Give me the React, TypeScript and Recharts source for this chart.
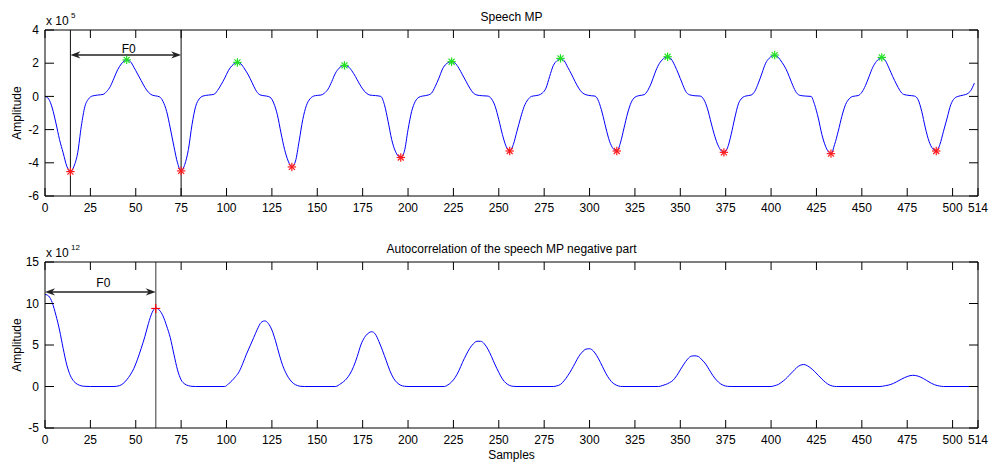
import React from "react";
import { ComposedChart, Line, Scatter, XAxis, YAxis, ReferenceLine } from "recharts";

// sample index ticks shared by both panels
const xTicks = [0, 25, 50, 75, 100, 125, 150, 175, 200, 225, 250, 275, 300, 325, 350, 375, 400, 425, 450, 475, 500, 514];
const mpTicks = [-6, -4, -2, 0, 2, 4];
const acfTicks = [-5, 0, 5, 10, 15];

// speech MP, amplitude in units of 1e5 — [sample, amplitude]
const speechMp: [number, number][] = [
  [0, 0], [2, -0.15], [4, -0.7], [6, -1.6], [8, -2.6], [10, -3.4], [12, -4.2], [14, -4.53],
  [16, -4.2], [18, -3.4], [20, -1.8], [22, -0.6], [24, -0.15], [26, 0.02], [29, 0.08], [32, 0.12], [34, 0.3], [36, 0.6], [38, 1.1], [40, 1.6], [42, 1.95], [45, 2.2],
  [47, 2.1], [49, 1.75], [51, 1.35], [53, 0.95], [55, 0.55], [57, 0.25], [59, 0.08], [61, 0.03], [63, -0.02], [65, -0.3], [67, -0.9], [69, -1.9], [71, -3.0], [73, -4.0], [75, -4.49],
  [77, -4.1], [79, -3.2], [81, -1.7], [83, -0.6], [85, -0.15], [87, 0.02], [90, 0.08], [93, 0.12], [95, 0.35], [97, 0.7], [99, 1.1], [101, 1.55], [103, 1.85], [106, 2.05],
  [108, 1.95], [110, 1.65], [112, 1.29], [114, 0.85], [116, 0.4], [118, 0.12], [120, 0.05], [122, 0.02], [124, -0.05], [126, -0.4], [128, -1.1], [130, -2.2], [132, -3.2], [134, -3.9], [136, -4.25],
  [138, -3.9], [140, -2.7], [142, -1.4], [144, -0.55], [146, -0.15], [148, 0.02], [150, 0.06], [152, 0.08], [154, 0.2], [156, 0.45], [158, 0.9], [160, 1.4], [162, 1.7], [165, 1.87],
  [167, 1.8], [169, 1.55], [171, 1.2], [173, 0.8], [175, 0.45], [177, 0.2], [179, 0.08], [182, 0.05], [185, 0.0], [187, -0.5], [189, -1.5], [191, -2.6], [193, -3.3], [196, -3.68],
  [198, -3.3], [200, -2.0], [202, -0.9], [204, -0.3], [206, -0.05], [208, 0.02], [211, 0.08], [213, 0.2], [215, 0.6], [217, 1.1], [219, 1.65], [221, 1.95], [224, 2.09],
  [226, 2.0], [228, 1.7], [230, 1.3], [232, 0.9], [234, 0.5], [236, 0.2], [238, 0.08], [241, 0.04], [244, 0.02], [246, -0.15], [248, -0.6], [250, -1.4], [252, -2.3], [254, -3.0], [256, -3.29],
  [258, -2.9], [260, -2.1], [262, -1.3], [264, -0.6], [266, -0.2], [268, 0.0], [270, 0.04], [272, 0.08], [274, 0.2], [276, 0.5], [278, 1.2], [280, 1.85], [282, 2.15], [284, 2.29],
  [286, 2.15], [288, 1.75], [290, 1.35], [292, 0.9], [294, 0.5], [296, 0.22], [298, 0.1], [301, 0.04], [303, 0.02], [305, -0.3], [307, -1.0], [309, -1.9], [311, -2.7], [313, -3.15], [315, -3.29],
  [317, -2.8], [319, -1.9], [321, -1.0], [323, -0.35], [325, -0.05], [327, 0.04], [330, 0.1], [332, 0.35], [334, 0.8], [336, 1.4], [338, 1.9], [340, 2.2], [343, 2.39],
  [345, 2.25], [347, 1.85], [349, 1.35], [351, 0.8], [353, 0.3], [355, 0.1], [358, 0.04], [361, 0.02], [363, -0.2], [365, -0.75], [367, -1.6], [369, -2.4], [371, -3.0], [374, -3.37],
  [376, -3.1], [378, -2.3], [380, -1.3], [382, -0.45], [384, -0.1], [386, 0.02], [389, 0.08], [391, 0.3], [393, 0.8], [395, 1.4], [397, 2.0], [399, 2.3], [402, 2.49],
  [404, 2.35], [406, 2.05], [408, 1.7], [410, 1.2], [412, 0.65], [414, 0.22], [416, 0.06], [419, 0.02], [422, 0.0], [424, -0.5], [426, -1.3], [428, -2.3], [430, -3.0], [433, -3.45],
  [435, -2.9], [437, -2.1], [439, -1.2], [441, -0.5], [443, -0.15], [445, 0.0], [448, 0.05], [450, 0.25], [452, 0.65], [454, 1.2], [456, 1.75], [458, 2.1], [461, 2.35],
  [463, 2.15], [465, 1.7], [467, 1.2], [469, 0.75], [471, 0.35], [473, 0.12], [476, 0.06], [479, 0.02], [481, -0.2], [483, -0.9], [485, -1.9], [487, -2.7], [489, -3.15], [491, -3.29],
  [493, -2.9], [495, -2.1], [497, -1.3], [499, -0.5], [501, -0.12], [503, 0.0], [506, 0.08], [508, 0.15], [510, 0.35], [512, 0.8],
];

// detected maxima (green) and minima (red)
const mpPeaks: [number, number][] = [
  [45, 2.2], [106, 2.05], [165, 1.87], [224, 2.09], [284, 2.29], [343, 2.39], [402, 2.49], [461, 2.35],
];
const mpValleys: [number, number][] = [
  [14, -4.53], [75, -4.49], [136, -4.25], [196, -3.68], [256, -3.29], [315, -3.29], [374, -3.37], [433, -3.45], [491, -3.29],
];

// autocorrelation of the negative part, units of 1e12 — [lag, value]
const acf: [number, number][] = [
  [0, 11.1], [2, 10.9], [4, 10.1], [6, 8.6], [8, 6.8], [10, 4.6], [12, 2.6], [14, 1.3], [16, 0.6], [18, 0.25], [20, 0.08], [22, 0.02], [25, 0], [38, 0],
  [41, 0.1], [43, 0.35], [45, 0.8], [47, 1.4], [49, 2.2], [51, 3.3], [53, 4.6], [55, 6.0], [57, 7.6], [59, 8.9], [61, 9.45], [63, 9.2], [65, 8.5], [67, 7.3], [69, 5.9], [71, 3.9], [73, 2.0], [75, 0.8], [77, 0.3], [79, 0.1], [81, 0.02], [83, 0], [99, 0],
  [101, 0.3], [103, 0.7], [105, 1.2], [107, 1.8], [109, 2.8], [111, 3.9], [113, 4.9], [115, 5.9], [117, 6.9], [119, 7.7], [121, 7.9], [123, 7.6], [125, 6.8], [127, 5.5], [129, 3.9], [131, 2.5], [133, 1.5], [135, 0.8], [137, 0.35], [139, 0.12], [141, 0.02], [143, 0], [160, 0],
  [163, 0.35], [166, 0.9], [168, 1.5], [170, 2.4], [172, 3.6], [174, 5.0], [176, 5.9], [178, 6.4], [180, 6.6], [182, 6.3], [184, 5.4], [186, 4.3], [188, 3.1], [190, 1.9], [192, 1.0], [194, 0.45], [196, 0.15], [198, 0.03], [200, 0], [220, 0],
  [222, 0.2], [224, 0.55], [226, 1.1], [228, 1.9], [230, 2.9], [232, 3.8], [234, 4.6], [236, 5.15], [238, 5.45], [240, 5.45], [242, 5.15], [244, 4.5], [246, 3.6], [248, 2.6], [250, 1.7], [252, 0.9], [254, 0.4], [256, 0.12], [258, 0.02], [260, 0], [280, 0],
  [282, 0.08], [284, 0.25], [286, 0.7], [288, 1.3], [290, 2.0], [292, 2.8], [294, 3.6], [296, 4.15], [298, 4.5], [300, 4.55], [302, 4.3], [304, 3.7], [306, 2.9], [308, 2.0], [310, 1.2], [312, 0.6], [314, 0.25], [316, 0.06], [318, 0], [338, 0],
  [340, 0.1], [342, 0.25], [344, 0.45], [346, 0.75], [348, 1.3], [350, 2.0], [352, 2.7], [354, 3.3], [356, 3.65], [358, 3.7], [360, 3.6], [362, 3.2], [364, 2.7], [366, 2.0], [368, 1.3], [370, 0.75], [372, 0.35], [374, 0.12], [376, 0.02], [378, 0], [400, 0],
  [402, 0.1], [404, 0.25], [406, 0.55], [408, 0.9], [410, 1.35], [412, 1.8], [414, 2.25], [416, 2.55], [418, 2.65], [420, 2.5], [422, 2.2], [424, 1.8], [426, 1.35], [428, 0.9], [430, 0.5], [432, 0.2], [434, 0.05], [436, 0], [460, 0],
  [463, 0.1], [466, 0.25], [469, 0.55], [472, 0.9], [475, 1.2], [478, 1.35], [481, 1.25], [484, 0.95], [487, 0.55], [490, 0.22], [493, 0.05], [495, 0], [512, 0],
];
const acfPeak: [number, number][] = [[61, 9.4]];

// F0 annotations
const mpF0 = { from: 14, to: 75, level: 2.5 };
const acfF0 = { from: 0, to: 61, level: 11.4 };

const rows = (pts: [number, number][]) => pts.map(([x, y]) => ({ x, y }));

const axisStroke = { stroke: "#000", strokeWidth: 1 };
const tickFont = { fill: "#000", fontSize: 12 };
const blank = () => "";

const asterisk = (color: string) => (props: any) => {
  const { cx, cy } = props;
  const r = 4.2;
  const d = 3;
  return (
    <g stroke={color} strokeWidth={1.2}>
      <line x1={cx - r} y1={cy} x2={cx + r} y2={cy} />
      <line x1={cx} y1={cy - r} x2={cx} y2={cy + r} />
      <line x1={cx - d} y1={cy - d} x2={cx + d} y2={cy + d} />
      <line x1={cx - d} y1={cy + d} x2={cx + d} y2={cy - d} />
    </g>
  );
};

const plusMark = (props: any) => {
  const { cx, cy } = props;
  const r = 4.5;
  return (
    <g stroke="#ff0000" strokeWidth={1.2}>
      <line x1={cx - r} y1={cy} x2={cx + r} y2={cy} />
      <line x1={cx} y1={cy - r} x2={cx} y2={cy + r} />
    </g>
  );
};

// double headed arrow with the F0 text above it
const f0Arrow = (gap: number) => (props: any) => {
  const { x1, y1, x2 } = props;
  const y = y1;
  const L = 10;
  const h = 3.6;
  const n = 7;
  return (
    <g>
      <line x1={x1 + 3} y1={y} x2={x2 - 3} y2={y} stroke="#222" strokeWidth={1.5} />
      <polygon points={`${x1},${y} ${x1 + L},${y - h} ${x1 + n},${y} ${x1 + L},${y + h}`} fill="#222" />
      <polygon points={`${x2},${y} ${x2 - L},${y - h} ${x2 - n},${y} ${x2 - L},${y + h}`} fill="#222" />
      <text x={(x1 + x2) / 2 + 3} y={y - gap} textAnchor="middle" fontSize={12} fill="#000">
        F0
      </text>
    </g>
  );
};

const yLabel = (exp: string) => (props: any) => {
  const { x, y, width, height } = props.viewBox;
  const lx = x + 16;
  const ly = y + height / 2;
  return (
    <g fill="#000">
      <text x={lx} y={ly} transform={`rotate(-90, ${lx}, ${ly})`} textAnchor="middle" fontSize={12}>
        Amplitude
      </text>
      <text x={x + width + 1} y={y - 5.5} fontSize={12}>x 10</text>
      <text x={x + width + 26} y={y - 12.5} fontSize={8}>{exp}</text>
    </g>
  );
};

// the top axis box is 1px tall, sitting just above the plot
const titleLabel = (title: string) => (props: any) => {
  const { x, y, width } = props.viewBox;
  return (
    <text x={x + width / 2} y={y - 8.5} textAnchor="middle" fontSize={12} fill="#000">
      {title}
    </text>
  );
};

const samplesLabel = (props: any) => {
  const { x, y, width } = props.viewBox;
  return (
    <text x={x + width / 2} y={y + 31} textAnchor="middle" fontSize={12} fill="#000">
      Samples
    </text>
  );
};

// plot box: x 45..978, y 30..196 inside each chart
const margin = { top: 29, right: 10, bottom: 0, left: 5 };

export default function App() {
  return (
    <div
      style={{
        position: "absolute",
        left: 0,
        top: 0,
        width: 989,
        height: 465,
        background: "#fff",
        fontFamily: '"Liberation Sans", Arial, Helvetica, sans-serif',
      }}
    >
      <div style={{ position: "absolute", left: 0, top: 0 }}>
        <ComposedChart width={989} height={216} margin={margin}>
          <XAxis
            dataKey="x"
            type="number"
            domain={[0, 514]}
            ticks={xTicks}
            interval={0}
            height={20}
            tickSize={-8}
            tickMargin={15}
            axisLine={axisStroke}
            tickLine={axisStroke}
            tick={tickFont}
          />
          <XAxis
            xAxisId="t"
            dataKey="x"
            orientation="top"
            type="number"
            domain={[0, 514]}
            allowDataOverflow
            ticks={xTicks}
            interval={0}
            height={1}
            tickSize={-8}
            tickFormatter={blank}
            axisLine={axisStroke}
            tickLine={axisStroke}
            label={titleLabel("Speech MP")}
          />
          <YAxis
            type="number"
            domain={[-6, 4]}
            ticks={mpTicks}
            interval={0}
            width={40}
            tickSize={-9}
            tickMargin={15}
            axisLine={axisStroke}
            tickLine={axisStroke}
            tick={tickFont}
            label={yLabel("5")}
          />
          <YAxis
            yAxisId="r"
            orientation="right"
            type="number"
            domain={[-6, 4]}
            allowDataOverflow
            ticks={mpTicks}
            interval={0}
            width={1}
            tickSize={-9}
            tickFormatter={blank}
            axisLine={axisStroke}
            tickLine={axisStroke}
          />
          <ReferenceLine x={mpF0.from} stroke="#111" strokeWidth={1} />
          <ReferenceLine x={mpF0.to} stroke="#333" strokeWidth={1.2} />
          {/* invisible copy so the top and right frame axes are registered */}
          <Line
            data={rows(speechMp)}
            xAxisId="t"
            yAxisId="r"
            dataKey="y"
            stroke="none"
            dot={false}
            activeDot={false}
            isAnimationActive={false}
          />
          <Line
            data={rows(speechMp)}
            dataKey="y"
            type="monotone"
            stroke="#0000ff"
            strokeWidth={1}
            dot={false}
            isAnimationActive={false}
          />
          <Scatter data={rows(mpPeaks)} dataKey="y" shape={asterisk("#22e022")} isAnimationActive={false} />
          <Scatter data={rows(mpValleys)} dataKey="y" shape={asterisk("#ff1a1a")} isAnimationActive={false} />
          <ReferenceLine
            segment={[
              { x: mpF0.from, y: mpF0.level },
              { x: mpF0.to, y: mpF0.level },
            ]}
            shape={f0Arrow(2)}
          />
        </ComposedChart>
      </div>

      <div style={{ position: "absolute", left: 0, top: 232 }}>
        <ComposedChart width={989} height={230} margin={margin}>
          <XAxis
            dataKey="x"
            type="number"
            domain={[0, 514]}
            ticks={xTicks}
            interval={0}
            height={34}
            tickSize={-8}
            tickMargin={15}
            axisLine={axisStroke}
            tickLine={axisStroke}
            tick={tickFont}
            label={samplesLabel}
          />
          <XAxis
            xAxisId="t"
            dataKey="x"
            orientation="top"
            type="number"
            domain={[0, 514]}
            allowDataOverflow
            ticks={xTicks}
            interval={0}
            height={1}
            tickSize={-8}
            tickFormatter={blank}
            axisLine={axisStroke}
            tickLine={axisStroke}
            label={titleLabel("Autocorrelation of the speech MP negative part")}
          />
          <YAxis
            type="number"
            domain={[-5, 15]}
            ticks={acfTicks}
            interval={0}
            width={40}
            tickSize={-9}
            tickMargin={15}
            axisLine={axisStroke}
            tickLine={axisStroke}
            tick={tickFont}
            label={yLabel("12")}
          />
          <YAxis
            yAxisId="r"
            orientation="right"
            type="number"
            domain={[-5, 15]}
            allowDataOverflow
            ticks={acfTicks}
            interval={0}
            width={1}
            tickSize={-9}
            tickFormatter={blank}
            axisLine={axisStroke}
            tickLine={axisStroke}
          />
          <ReferenceLine x={acfF0.to} stroke="#777" strokeWidth={1.5} />
          <Line
            data={rows(acf)}
            xAxisId="t"
            yAxisId="r"
            dataKey="y"
            stroke="none"
            dot={false}
            activeDot={false}
            isAnimationActive={false}
          />
          <Line
            data={rows(acf)}
            dataKey="y"
            type="monotone"
            stroke="#0000ff"
            strokeWidth={1}
            dot={false}
            isAnimationActive={false}
          />
          <Scatter data={rows(acfPeak)} dataKey="y" shape={plusMark} isAnimationActive={false} />
          <ReferenceLine
            segment={[
              { x: acfF0.from, y: acfF0.level },
              { x: acfF0.to, y: acfF0.level },
            ]}
            shape={f0Arrow(5)}
          />
        </ComposedChart>
      </div>
    </div>
  );
}
